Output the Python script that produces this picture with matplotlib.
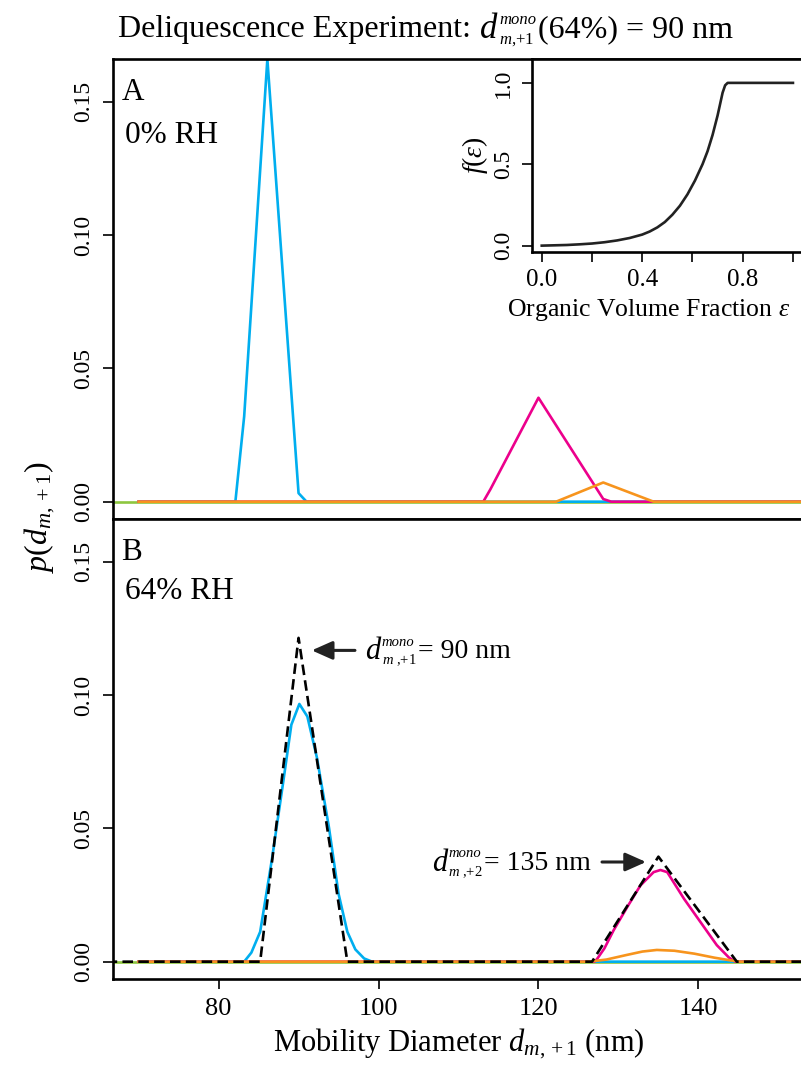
import matplotlib
matplotlib.use('Agg')
import matplotlib.pyplot as plt
from matplotlib.offsetbox import TextArea, HPacker, VPacker, AnnotationBbox

plt.rcParams['font.family'] = ['Liberation Serif', 'DejaVu Serif']
plt.rcParams['mathtext.fontset'] = 'custom'
plt.rcParams['mathtext.rm'] = 'Liberation Serif'
plt.rcParams['mathtext.it'] = 'Liberation Serif:italic'
plt.rcParams['mathtext.bf'] = 'Liberation Serif:bold'

# ===== DATA =====
# panel A (0% RH)
a_blue_x = [70, 82.1, 83.2, 86.1, 90.0, 91.0, 154]
a_blue_y = [0, 0, 0.032, 0.166, 0.0032, 0, 0]
a_pink_x = [70, 113.1, 114.0, 120.0, 128.1, 129.1, 154]
a_pink_y = [0, 0, 0.0047, 0.039, 0.001, 0, 0]
a_orange_x = [70, 122.2, 128.1, 134.4, 154]
a_orange_y = [0, 0, 0.0072, 0, 0]

# panel B (64% RH)
b_blue_x = [70, 83.2, 84.1, 85.2, 86.7, 88.1, 89.1, 90.1, 91.1, 92.3, 93.8, 95.0, 96.1, 97.1, 98.2, 99.2, 154]
b_blue_y = [0, 0, 0.0034, 0.0112, 0.039, 0.0678, 0.0889, 0.0967, 0.092, 0.0765, 0.0504, 0.0255, 0.0112, 0.0046, 0.0012, 0, 0]
b_pink_x = [70, 127.0, 127.3, 128.25, 129.4, 131.1, 132.75, 134.4, 135.25, 136.1, 138.2, 140.25, 142.3, 143.8, 144.6, 154]
b_pink_y = [0, 0, 0.0009, 0.005, 0.0118, 0.0205, 0.0286, 0.0336, 0.0344, 0.0336, 0.0236, 0.0149, 0.0062, 0.0016, 0, 0]
b_orange_x = [70, 126.3, 128.5, 131.0, 133.0, 134.8, 137.0, 139.5, 142.0, 144.0, 145.25, 154]
b_orange_y = [0, 0, 0.0008, 0.0025, 0.0038, 0.0044, 0.0041, 0.003, 0.0015, 0.0005, 0, 0]
b_mono_x = [66, 85.2, 90.0, 96.1, 126.7, 135.0, 144.8, 154]
b_mono_y = [0, 0, 0.1215, 0, 0, 0.0394, 0, 0]

green_x = [66, 154]
green_y = [0, 0]

# inset f(eps)
eps = [0.0, 0.05, 0.1, 0.15, 0.2, 0.25, 0.3, 0.35, 0.4, 0.43, 0.46, 0.49, 0.52, 0.55, 0.58,
       0.61, 0.64, 0.66, 0.68, 0.70, 0.71, 0.72, 0.73, 0.74, 1.0]
f_eps = [0.0, 0.002, 0.004, 0.008, 0.013, 0.021, 0.032, 0.047, 0.068, 0.087, 0.112, 0.145, 0.19,
         0.245, 0.315, 0.40, 0.50, 0.58, 0.68, 0.80, 0.87, 0.94, 0.985, 1.0, 1.0]

x_ticks = [80, 100, 120, 140]
y_ticks = [0.0, 0.05, 0.10, 0.15]
y_ticklabels = ['0.00', '0.05', '0.10', '0.15']

C_BLUE = '#00AEEF'
C_PINK = '#EC008C'
C_ORANGE = '#F7941D'
C_GREEN = '#8DC63F'
LW = 1.9

fig = plt.figure(figsize=(8.01, 10.70), dpi=100)
axA = fig.add_axes([0.1411, 0.5147, 0.8626, 0.4299])
axB = fig.add_axes([0.1411, 0.0848, 0.8626, 0.4299])


def style(ax, labels):
    ax.set_xlim(66.8, 153.2)
    ax.set_ylim(-0.0066, 0.166)
    ax.set_xticks(x_ticks)
    ax.set_yticks(y_ticks)
    ax.set_yticklabels(y_ticklabels, rotation=90, va='center', fontsize=17)
    if labels:
        ax.set_xticklabels([str(v) for v in x_ticks], fontsize=19)
    else:
        ax.set_xticklabels([])
    ax.tick_params(direction='out', length=7.5, width=1.2, pad=6)
    for s in ax.spines.values():
        s.set_linewidth(1.9)


def mono_label(sub, before, after, big, small):
    # d^{mono}_{sub} built from pieces so the scripts stay small like the original
    parts = []
    if before:
        parts.append(TextArea(before, textprops=dict(fontsize=big)))
    parts.append(TextArea('d', textprops=dict(fontsize=big + 2, style='italic')))
    stack = VPacker(children=[TextArea('mono', textprops=dict(fontsize=small, style='italic')),
                              TextArea(sub, textprops=dict(fontsize=small))],
                    align='left', pad=0, sep=3)
    parts.append(stack)
    parts.append(TextArea(after, textprops=dict(fontsize=big)))
    return HPacker(children=parts, align='center', pad=0, sep=1)


for ax in (axA, axB):
    ax.plot(green_x, green_y, color=C_GREEN, lw=LW)

axA.plot(a_blue_x, a_blue_y, color=C_BLUE, lw=LW)
axA.plot(a_pink_x, a_pink_y, color=C_PINK, lw=LW)
axA.plot(a_orange_x, a_orange_y, color=C_ORANGE, lw=LW)
style(axA, False)
axA.text(0.012, 0.96, 'A', transform=axA.transAxes, fontsize=22.5, va='top')
axA.text(0.018, 0.865, '0% RH', transform=axA.transAxes, fontsize=22.5, va='top')

axB.plot(b_blue_x, b_blue_y, color=C_BLUE, lw=LW)
axB.plot(b_pink_x, b_pink_y, color=C_PINK, lw=LW)
axB.plot(b_orange_x, b_orange_y, color=C_ORANGE, lw=LW)
axB.plot(b_mono_x, b_mono_y, color='black', lw=LW, ls=(0, (4, 2)))
style(axB, True)
axB.text(0.012, 0.96, 'B', transform=axB.transAxes, fontsize=22.5, va='top')
axB.text(0.018, 0.875, '64% RH', transform=axB.transAxes, fontsize=22.5, va='top')

arrow = dict(arrowstyle='-|>,head_length=0.9,head_width=0.4', color='#222222', lw=2.2, mutation_scale=14)
axB.annotate('', xy=(91.3, 0.1168), xytext=(97.4, 0.1168), arrowprops=arrow)
axB.add_artist(AnnotationBbox(mono_label('$m$ ,+1', '', '= 90 nm', 20, 10.5), (98.3, 0.1162),
                              box_alignment=(0, 0.5), frameon=False, pad=0))
axB.annotate('', xy=(133.8, 0.0374), xytext=(127.6, 0.0374), arrowprops=arrow)
axB.add_artist(AnnotationBbox(mono_label('$m$ ,+2', '', '= 135 nm', 20, 10.5), (126.6, 0.0368),
                              box_alignment=(1, 0.5), frameon=False, pad=0))

# inset
axI = fig.add_axes([0.6638, 0.7648, 0.3387, 0.1798])
axI.set_facecolor('white')
axI.plot(eps, f_eps, color='#222222', lw=1.9)
axI.set_xlim(-0.04, 1.04)
axI.set_ylim(-0.037, 1.145)
axI.set_xticks([0.0, 0.2, 0.4, 0.6, 0.8, 1.0])
axI.set_xticklabels(['0.0', '', '0.4', '', '0.8', ''], fontsize=18)
axI.set_yticks([0.0, 0.5, 1.0])
axI.set_yticklabels(['0.0', '0.5', '1.0'], rotation=90, va='center', fontsize=17)
axI.tick_params(direction='out', length=7.5, width=1.2, pad=5)
for s in axI.spines.values():
    s.set_linewidth(1.9)
axI.set_xlabel(r'Organic Volume Fraction $\varepsilon$', fontsize=18.5)
axI.xaxis.set_label_coords(0.43, -0.235)
axI.set_ylabel(r'$f(\varepsilon)$', fontsize=20)
axI.yaxis.set_label_coords(-0.155, 0.5)

fig.add_artist(AnnotationBbox(mono_label('$m$,+1', 'Deliquescence Experiment: ', '(64%) = 90 nm', 23, 12),
                              (0.531, 0.972), xycoords='figure fraction',
                              box_alignment=(0.5, 0.5), frameon=False, pad=0))
fig.text(0.05, 0.517, r'$p(d_{m,+1})$', fontsize=23, rotation=90, ha='center', va='center')
fig.text(0.573, 0.024, r'Mobility Diameter $d_{m,+1}$ (nm)', fontsize=22, ha='center', va='center')

fig.savefig('out.png', dpi=100)
